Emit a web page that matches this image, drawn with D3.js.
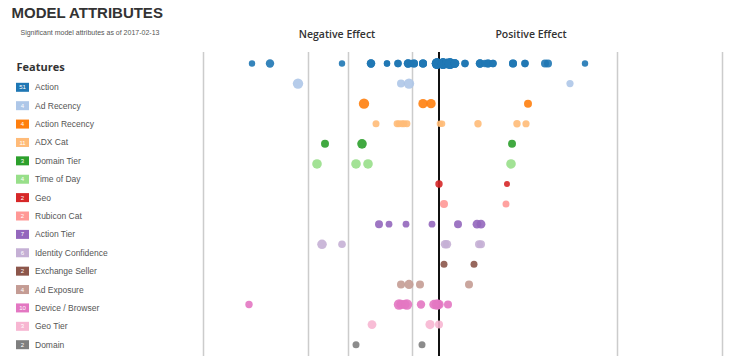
<!DOCTYPE html>
<html>
<head>
<meta charset="utf-8">
<script src="https://cdn.jsdelivr.net/npm/d3@7"></script>
<style>
  html, body { margin: 0; padding: 0; background: #fff; }
  svg { display: block; }
</style>
</head>
<body>
<svg id="chart" width="740" height="356"></svg>
<script>
// ---------------- DATA ----------------
const features = ["Action", "Ad Recency", "Action Recency", "ADX Cat", "Domain Tier", "Time of Day",
  "Geo", "Rubicon Cat", "Action Tier", "Identity Confidence", "Exchange Seller", "Ad Exposure",
  "Device / Browser", "Geo Tier", "Domain"];

const palette = ["#1f77b4", "#aec7e8", "#ff7f0e", "#ffbb78", "#2ca02c", "#98df8a", "#d62728",
  "#ff9896", "#9467bd", "#c5b0d5", "#8c564b", "#c49c94", "#e377c2", "#f7b6d2", "#7f7f7f"];

// effect estimate of each significant attribute level, per feature
const effectValues = [
  [-1.87, -1.69, -0.97, -0.68, -0.68, -0.52, -0.52, -0.41, -0.41, -0.31, -0.31, -0.28, -0.25, -0.25,
   -0.16, -0.16, -0.16, -0.02, -0.02, -0.02, -0.02, 0.04, 0.04, 0.04, 0.04, 0.08, 0.08, 0.08,
   0.11, 0.11, 0.11, 0.11, 0.16, 0.16, 0.16, 0.26, 0.26, 0.41, 0.41, 0.46, 0.49, 0.49, 0.54, 0.54,
   0.74, 0.74, 0.86, 0.86, 1.06, 1.09, 1.46],
  [-1.41, -0.38, -0.30, 1.31],
  [-0.75, -0.16, -0.08, 0.89],
  [-0.63, -0.42, -0.40, -0.37, -0.35, -0.32, 0.01, 0.03, 0.39, 0.78, 0.87],
  [-1.14, -0.77, 0.73],
  [-1.22, -0.83, -0.71, 0.72],
  [0.00, 0.68],
  [0.05, 0.67],
  [-0.60, -0.50, -0.33, -0.07, 0.19, 0.38, 0.42],
  [-1.17, -0.97, 0.06, 0.08, 0.40, 0.42],
  [0.05, 0.35],
  [-0.38, -0.30, -0.19, 0.30],
  [-1.90, -0.40, -0.38, -0.34, -0.32, -0.18, -0.05, -0.02, 0.00, 0.09],
  [-0.67, -0.09, 0.00],
  [-0.83, -0.17]
];

// relative weight (support) of each level, same order as effectValues
const effectWeights = [
  [1, 2, 1, 2, 2, 1, 1, 1.5, 1.5, 2, 2, 1.5, 1.8, 1.8,
   1.8, 1.8, 1.8, 3, 3, 3, 3, 3, 3, 3, 3, 2.5, 2.5, 2.5,
   3, 3, 3, 3, 2, 2, 2, 1.5, 1.5, 2, 2, 1.5, 1.8, 1.8, 1.5, 1.5,
   1.8, 1.8, 1.5, 1.5, 1.8, 1.8, 1],
  [3, 1.8, 3, 1.4],
  [3, 2.5, 2.5, 1.8],
  [1.3, 1.2, 1.2, 1.2, 1.2, 1.2, 1.1, 1.1, 1.5, 1.5, 1.4],
  [1.8, 2.6, 1.8],
  [2.6, 2.6, 2.6, 2.6],
  [1.5, 0.8],
  [1.8, 1.3],
  [1.8, 1.2, 1.2, 1.2, 1.8, 2.2, 2.2],
  [2.6, 1.6, 2, 2, 1.8, 1.8],
  [1.3, 1.3],
  [1.8, 2.4, 1.8, 1.8],
  [1.5, 3, 2.5, 2.5, 3, 2, 2.5, 3, 2.5, 1.8],
  [2.2, 2.4, 1.8],
  [1.3, 1.3]
];

const gridValues = [-2.36, -1.31, -0.91, -0.27, 1.78, 2.83];
const sideLabels = ["Negative Effect", "Positive Effect"];
const sideLabelValues = [-1.02, 0.92];
const titleText = "MODEL ATTRIBUTES";
const subtitleText = "Significant model attributes as of 2017-02-13";
const legendTitle = "Features";

// ---------------- CHART ----------------
const svg = d3.select("#chart");

const x = d3.scaleLinear().domain([-2.36, 2.83]).range([203, 722]);
const yDots = d3.scalePoint().domain(features).range([63.5, 344.7]);
const yLegend = d3.scalePoint().domain(features).range([87.3, 344.7]);
const r = d3.scaleLinear().domain([1, 3]).range([3.2, 5.2]);
const color = d3.scaleOrdinal().domain(features).range(palette);

// title
svg.append("text")
  .attr("x", 11.5).attr("y", 18)
  .attr("font-family", "'Liberation Sans', Arial, sans-serif")
  .attr("font-weight", "bold").attr("font-size", 15)
  .attr("fill", "#333")
  .text(titleText);

svg.append("text")
  .attr("x", 20.5).attr("y", 34.6)
  .attr("font-family", "'Liberation Sans', Arial, sans-serif")
  .attr("font-size", 7).attr("fill", "#555")
  .text(subtitleText);

// grid lines via axis
const gridAxis = d3.axisTop(x).tickValues(gridValues).tickSize(-(356 - 52)).tickFormat("");
const gAxis = svg.append("g").attr("transform", "translate(0,52)").call(gridAxis);
gAxis.select(".domain").remove();
gAxis.selectAll(".tick line").attr("stroke", "#ccc").attr("stroke-width", 1.5);

// zero line
svg.append("line")
  .attr("x1", x(0)).attr("x2", x(0))
  .attr("y1", 52).attr("y2", 356)
  .attr("stroke", "#111").attr("stroke-width", 2);

// side labels
svg.selectAll("text.side").data(sideLabels).join("text")
  .attr("class", "side")
  .attr("x", (d, i) => x(sideLabelValues[i]))
  .attr("y", 38)
  .attr("text-anchor", "middle")
  .attr("font-family", "'Open Sans', sans-serif")
  .attr("font-weight", 600).attr("font-size", 10.5)
  .attr("fill", "#333")
  .text(d => d);

// dots
const dots = [];
features.forEach((f, i) => {
  effectValues[i].forEach((v, j) => dots.push({ f, v, w: effectWeights[i][j] }));
});
svg.append("g").selectAll("circle").data(dots).join("circle")
  .attr("cx", d => x(d.v))
  .attr("cy", d => yDots(d.f))
  .attr("r", d => r(d.w))
  .attr("fill", d => color(d.f))
  .attr("fill-opacity", 0.9);

// legend
svg.append("text")
  .attr("x", 16.5).attr("y", 70.8)
  .attr("font-family", "'Open Sans', sans-serif")
  .attr("font-weight", 700).attr("font-size", 11)
  .attr("fill", "#333")
  .text(legendTitle);

const leg = svg.append("g").selectAll("g").data(features).join("g")
  .attr("transform", d => `translate(0,${yLegend(d)})`);
leg.append("rect")
  .attr("x", 16).attr("y", -4.5).attr("width", 13).attr("height", 9)
  .attr("fill", d => color(d));
leg.append("text")
  .attr("x", 22.5).attr("y", 0).attr("dy", "0.35em")
  .attr("text-anchor", "middle")
  .attr("font-family", "'Liberation Sans', Arial, sans-serif")
  .attr("font-size", 6).attr("fill", "#fff")
  .text((d, i) => effectValues[i].length);
leg.append("text")
  .attr("x", 35).attr("y", 0).attr("dy", "0.35em")
  .attr("font-family", "'Liberation Sans', Arial, sans-serif")
  .attr("font-size", 8.5).attr("fill", "#555")
  .text(d => d);
</script>
</body>
</html>
